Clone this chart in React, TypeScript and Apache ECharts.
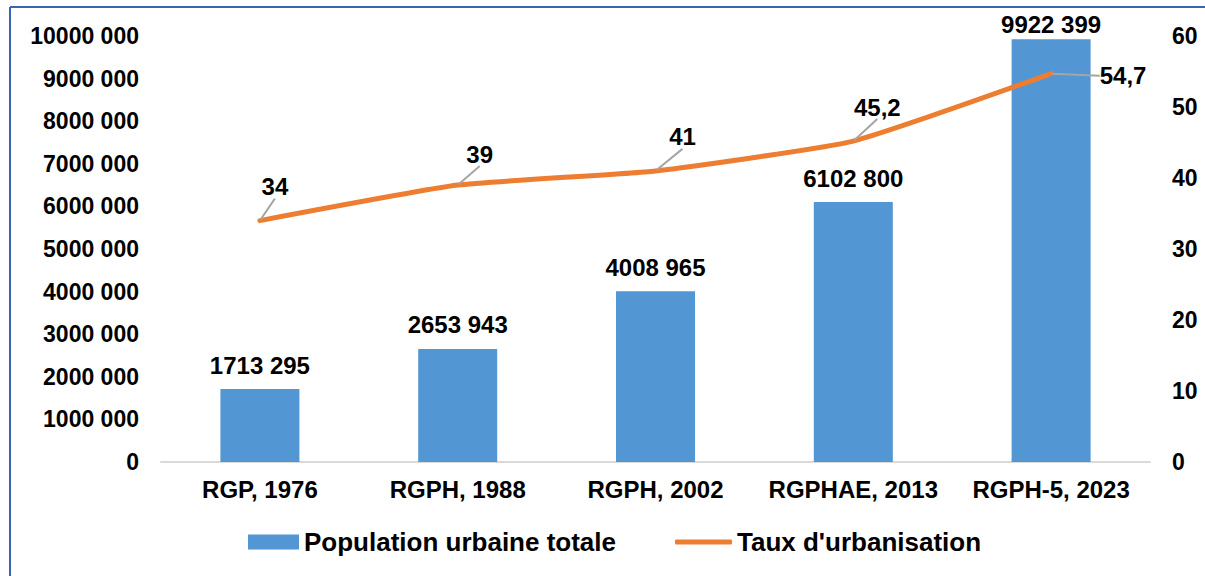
import React, { useEffect, useRef } from "react";
import * as echarts from "echarts";

const categories = ["RGP, 1976", "RGPH, 1988", "RGPH, 2002", "RGPHAE, 2013", "RGPH-5, 2023"];
const population = [1713295, 2653943, 4008965, 6102800, 9922399];
const urbanRate = [34, 39, 41, 45.2, 54.7];
const popSeriesName = "Population urbaine totale";
const rateSeriesName = "Taux d'urbanisation";
// label offsets (dx, dy) relative to default 'top' placement
const rateLabelOffsets = [
  [15, -16],
  [22, -13],
  [27, -16],
  [24, -16],
  [72, 20],
];
// bar label distances (the last one sits closer to the bar, as in the source)
const popLabelDistances = [12, 12, 12, 12, 3];

const FONT = "'Liberation Sans', Arial, sans-serif";

function fmt(v: number): string {
  if (v < 1000) return String(v);
  const th = Math.floor(v / 1000);
  const r = v % 1000;
  return th + " " + String(r).padStart(3, "0");
}

export default function App() {
  const ref = useRef<HTMLDivElement>(null);
  useEffect(() => {
    if (!ref.current) return;
    const chart = echarts.init(ref.current, null, { renderer: "svg" });
    chart.setOption({
      animation: false,
      backgroundColor: "#ffffff",
      textStyle: { fontFamily: FONT },
      grid: { left: 161, right: 55, top: 36, bottom: 114, containLabel: false },
      legend: [
        {
          data: [popSeriesName],
          left: 243,
          top: 524,
          itemWidth: 51,
          itemHeight: 15,
          icon: "rect",
          textStyle: { fontFamily: FONT, fontWeight: "bold", fontSize: 26, color: "#000" },
        },
        {
          data: [{ name: rateSeriesName, icon: "roundRect" }],
          left: 670,
          top: 524,
          itemWidth: 57,
          itemHeight: 5,
          textStyle: { fontFamily: FONT, fontWeight: "bold", fontSize: 26, color: "#000" },
        },
      ],
      xAxis: {
        type: "category",
        data: categories,
        axisLine: { show: true, lineStyle: { color: "#D9D9D9", width: 2 } },
        axisTick: { show: false },
        axisLabel: {
          interval: 0,
          color: "#000",
          fontWeight: "bold",
          fontSize: 24,
          fontFamily: FONT,
          margin: 15,
        },
      },
      yAxis: [
        {
          type: "value",
          min: 0,
          max: 10000000,
          interval: 1000000,
          splitLine: { show: false },
          axisLine: { show: false },
          axisTick: { show: false },
          axisLabel: {
            color: "#000",
            fontWeight: "bold",
            fontSize: 23,
            fontFamily: FONT,
            margin: 22,
            formatter: (v: number) => fmt(v),
          },
        },
        {
          type: "value",
          min: 0,
          max: 60,
          interval: 10,
          splitLine: { show: false },
          axisLine: { show: false },
          axisTick: { show: false },
          axisLabel: { color: "#000", fontWeight: "bold", fontSize: 23, fontFamily: FONT, margin: 22 },
        },
      ],
      series: [
        {
          name: popSeriesName,
          type: "bar",
          data: population.map((v, i) => ({ value: v, label: { distance: popLabelDistances[i] } })),
          yAxisIndex: 0,
          barWidth: 79,
          itemStyle: { color: "#5296D3" },
          label: {
            show: true,
            position: "top",
            color: "#000",
            fontWeight: "bold",
            fontSize: 24,
            fontFamily: FONT,
            formatter: (p: any) => fmt(p.value),
          },
        },
        {
          name: rateSeriesName,
          type: "line",
          data: urbanRate,
          yAxisIndex: 1,
          smooth: 0.15,
          symbol: "circle",
          symbolSize: 2,
          showSymbol: true,
          itemStyle: { color: "#ED7D31" },
          lineStyle: { color: "#ED7D31", width: 5, cap: "round" },
          label: {
            show: true,
            position: "top",
            distance: 5,
            color: "#000",
            fontWeight: "bold",
            fontSize: 24,
            fontFamily: FONT,
            formatter: (p: any) => String(p.value).replace(".", ","),
          },
          labelLine: { show: true, lineStyle: { color: "#A5A5A5", width: 2 } },
          labelLayout: (params: any) => {
            const o = rateLabelOffsets[params.dataIndex] || [0, 0];
            return { dx: o[0], dy: o[1] };
          },
          z: 5,
        },
      ],
      graphic: [
        { type: "line", shape: { x1: 10, y1: 7, x2: 1205, y2: 7 }, style: { stroke: "#3A62B5", lineWidth: 2 } },
        { type: "line", shape: { x1: 10, y1: 7, x2: 10, y2: 576 }, style: { stroke: "#3A62B5", lineWidth: 2 } },
      ],
    });
    return () => chart.dispose();
  }, []);
  return (
    <div
      ref={ref}
      style={{ position: "absolute", left: 0, top: 0, width: 1205, height: 576 }}
    />
  );
}
